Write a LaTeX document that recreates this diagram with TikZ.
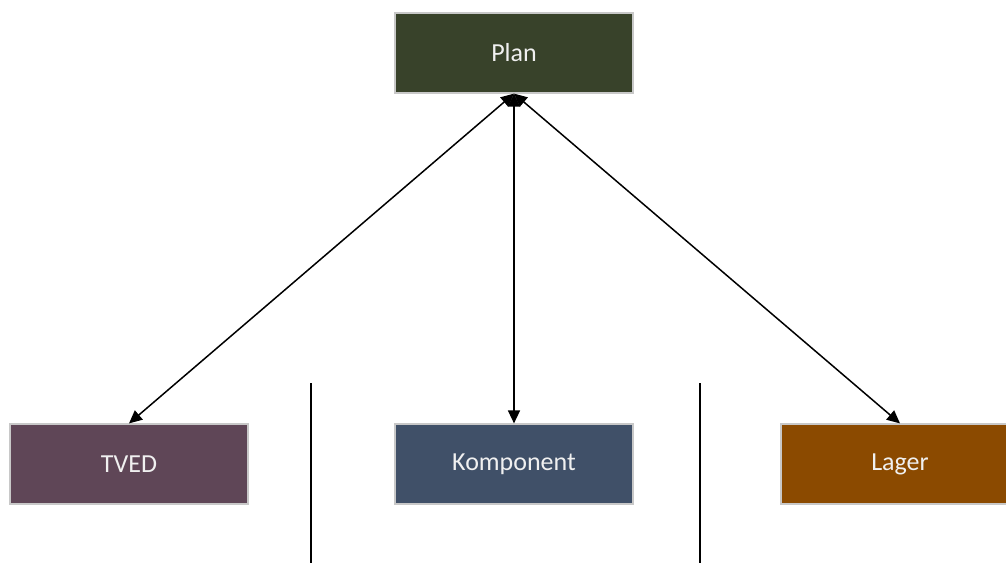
\documentclass[tikz,border=0pt]{standalone}
\usepackage{fontspec}
\setmainfont{Carlito}
\usetikzlibrary{arrows.meta}
\definecolor{planc}{RGB}{56,66,42}
\definecolor{tvedc}{RGB}{95,70,87}
\definecolor{kompc}{RGB}{64,80,104}
\definecolor{lagerc}{RGB}{139,74,0}
\definecolor{edgec}{RGB}{200,200,200}
\definecolor{txtc}{RGB}{240,240,240}
\tikzset{
  boxstyle/.style={draw=edgec, line width=1.2pt, minimum width=238pt, minimum height=80pt,
    inner sep=0pt, text=txtc, font=\fontsize{26}{30}\selectfont},
  conn/.style={line width=1.5pt, {Triangle[length=13pt,width=12pt]}-{Triangle[length=13pt,width=12pt]}},
  sep/.style={line width=1.5pt}
}
\begin{document}
\begin{tikzpicture}[x=1pt,y=-1pt]
\useasboundingbox (0,0) rectangle (1006,563);
\clip (0,0) rectangle (1006,563);
\node[boxstyle, fill=planc] (plan) at (514,53) {Plan};
\node[boxstyle, fill=tvedc] (tved) at (129,464) {TVED};
\node[boxstyle, fill=kompc] (komp) at (514,464) {Komponent};
\node[boxstyle, fill=lagerc] (lager) at (900,464) {Lager};
\draw[conn] (plan.south) -- (tved.north);
\draw[conn] (plan.south) -- (komp.north);
\draw[conn] (plan.south) -- (lager.north);
\coordinate (s1a) at (311,383);
\coordinate (s1b) at (311,563);
\coordinate (s2a) at (700,383);
\coordinate (s2b) at (700,563);
\draw[sep] (s1a) -- (s1b);
\draw[sep] (s2a) -- (s2b);
\end{tikzpicture}
\end{document}
